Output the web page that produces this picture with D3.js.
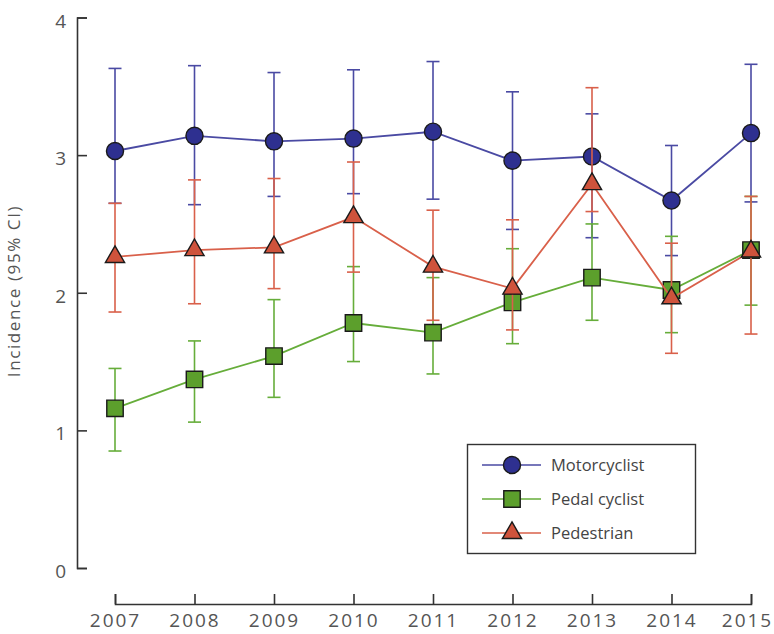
<!DOCTYPE html>
<html>
<head>
<meta charset="utf-8">
<script src="https://cdn.jsdelivr.net/npm/d3@7"></script>
<style>
  body { margin: 0; background: #fff; }
  text { font-family: "Open Sans", sans-serif; }
</style>
</head>
<body>
<svg width="774" height="634"></svg>
<script>
const svg = d3.select("svg");

// data
const years = [2007, 2008, 2009, 2010, 2011, 2012, 2013, 2014, 2015];
const yTicks = [0, 1, 2, 3, 4];

const motorValue = [3.03, 3.14, 3.10, 3.12, 3.17, 2.96, 2.99, 2.67, 3.16];
const motorLow = [2.65, 2.64, 2.70, 2.72, 2.68, 2.46, 2.40, 2.27, 2.66];
const motorHigh = [3.63, 3.65, 3.60, 3.62, 3.68, 3.46, 3.30, 3.07, 3.66];

const pedalValue = [1.16, 1.37, 1.54, 1.78, 1.71, 1.93, 2.11, 2.02, 2.31];
const pedalLow = [0.85, 1.06, 1.24, 1.50, 1.41, 1.63, 1.80, 1.71, 1.91];
const pedalHigh = [1.45, 1.65, 1.95, 2.19, 2.11, 2.32, 2.50, 2.41, 2.70];

const pedValue = [2.26, 2.31, 2.33, 2.55, 2.19, 2.03, 2.79, 1.96, 2.30];
const pedLow = [1.86, 1.92, 2.03, 2.15, 1.80, 1.73, 2.59, 1.56, 1.70];
const pedHigh = [2.65, 2.82, 2.83, 2.95, 2.60, 2.53, 3.49, 2.36, 2.70];

const seriesNames = ["Motorcyclist", "Pedal cyclist", "Pedestrian"];

const series = [
  { name: seriesNames[0], value: motorValue, low: motorLow, high: motorHigh,
    line: "#4a4aa3", fill: "#2e3090", symbol: d3.symbolCircle, size: 230 },
  { name: seriesNames[1], value: pedalValue, low: pedalLow, high: pedalHigh,
    line: "#66ad3a", fill: "#5c9f2c", symbol: d3.symbolSquare, size: 270 },
  { name: seriesNames[2], value: pedValue, low: pedLow, high: pedHigh,
    line: "#d9604a", fill: "#cf533c", symbol: d3.symbolTriangle, size: 160 }
];

const x = d3.scaleLinear().domain([2007, 2015]).range([115, 751]);
const y = d3.scaleLinear().domain([0, 4]).range([568, 17.5]);

// axes
const yAxis = svg.append("g")
  .attr("transform", "translate(77,0)")
  .call(d3.axisLeft(y).tickValues(yTicks).tickSize(-10).tickPadding(9).tickFormat(d3.format("d")));
yAxis.selectAll("text").attr("dy", "0.5em");
const xAxis = svg.append("g")
  .attr("transform", "translate(0,604)")
  .call(d3.axisBottom(x).tickValues(years).tickSize(-10).tickPadding(10).tickFormat(d3.format("d")));

[yAxis, xAxis].forEach(g => {
  g.selectAll("path, line").attr("stroke", "#333").attr("stroke-width", 1.6);
  g.selectAll("text").attr("fill", "#555")
    .style("font-size", "19px")
    .style("letter-spacing", "2px");
});
// last year label sits a bit left so it stays inside the frame
xAxis.selectAll("text").filter(d => d === 2015).attr("dx", -4);

svg.append("text")
  .attr("transform", "translate(20,291) rotate(-90)")
  .attr("text-anchor", "middle")
  .attr("fill", "#555")
  .style("font-size", "17px")
  .style("letter-spacing", "1.6px")
  .text("Incidence (95% CI)");

const line = d3.line().x((d, i) => x(years[i])).y(d => y(d));
const capW = 6.5;

series.forEach(s => {
  const g = svg.append("g");
  // error bars
  years.forEach((yr, i) => {
    const xe = x(yr);
    g.append("line").attr("x1", xe).attr("x2", xe)
      .attr("y1", y(s.low[i])).attr("y2", y(s.high[i]))
      .attr("stroke", s.line).attr("stroke-width", 1.6);
    [s.low[i], s.high[i]].forEach(v => {
      g.append("line").attr("x1", xe - capW).attr("x2", xe + capW)
        .attr("y1", y(v)).attr("y2", y(v))
        .attr("stroke", s.line).attr("stroke-width", 1.6);
    });
  });
  g.append("path").datum(s.value)
    .attr("d", line)
    .attr("fill", "none")
    .attr("stroke", s.line)
    .attr("stroke-width", 1.8);
  g.selectAll(".mark").data(s.value).enter().append("path")
    .attr("class", "mark")
    .attr("d", d3.symbol().type(s.symbol).size(s.size))
    .attr("transform", (d, i) => `translate(${x(years[i])},${y(d)})`)
    .attr("fill", s.fill)
    .attr("stroke", "#1a1a1a")
    .attr("stroke-width", 1.4);
});

// legend
const legend = svg.append("g");
legend.append("rect")
  .attr("x", 467.5).attr("y", 444.5)
  .attr("width", 228).attr("height", 109)
  .attr("fill", "#fff").attr("stroke", "#333").attr("stroke-width", 1.4);
series.forEach((s, i) => {
  const ly = 465 + i * 34;
  legend.append("line").attr("x1", 482).attr("x2", 541)
    .attr("y1", ly).attr("y2", ly)
    .attr("stroke", s.line).attr("stroke-width", 1.6);
  legend.append("path")
    .attr("d", d3.symbol().type(s.symbol).size(s.size)())
    .attr("transform", `translate(512,${ly})`)
    .attr("fill", s.fill).attr("stroke", "#1a1a1a").attr("stroke-width", 1.4);
  legend.append("text")
    .attr("x", 551).attr("y", ly)
    .attr("dy", "0.35em")
    .attr("fill", "#444")
    .style("font-size", "16.5px")
    .text(s.name);
});
</script>
</body>
</html>
